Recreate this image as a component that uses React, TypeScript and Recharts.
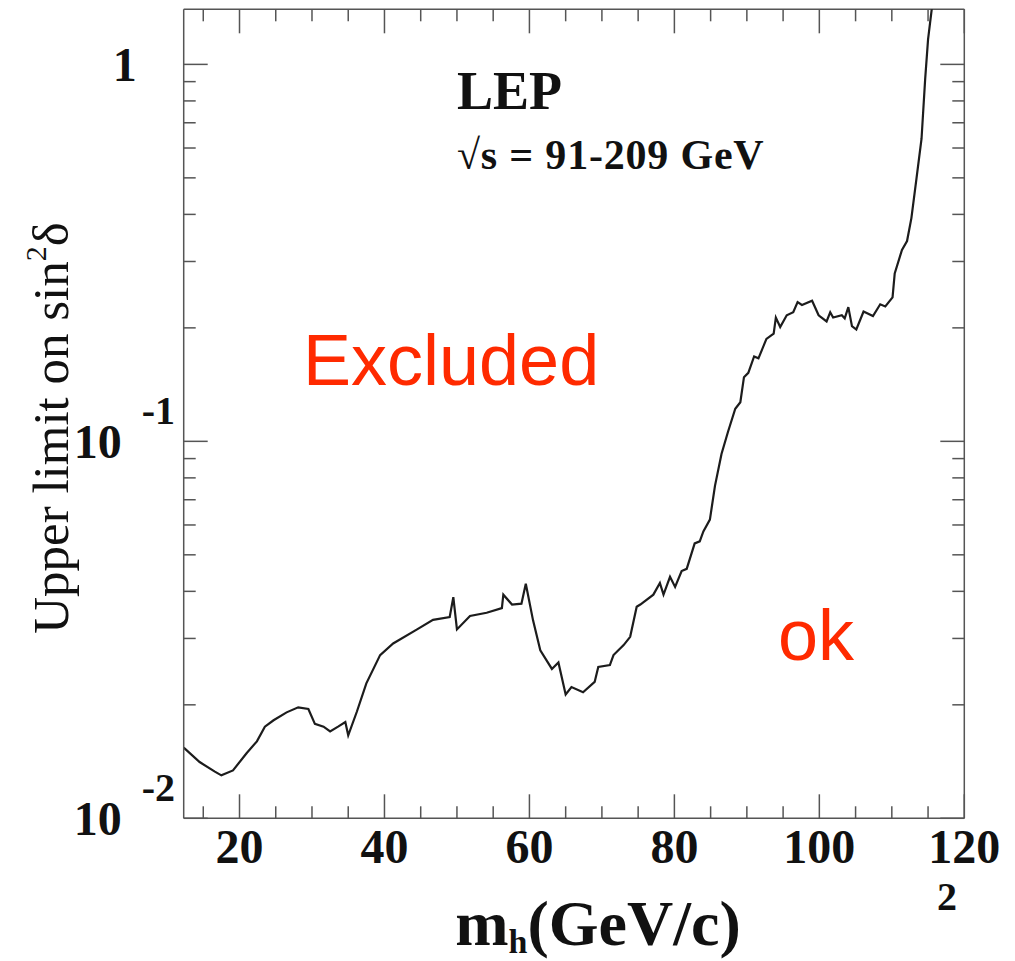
import React from "react";
import { LineChart, Line, XAxis, YAxis, ReferenceLine } from "recharts";

// Higgs mass (GeV/c^2) and upper limit on sin^2(delta)
const massGeV = [
  12.3, 14.5, 16.6, 17.5, 19.1, 21.0, 22.4, 23.5, 24.7, 26.5, 28.1, 29.5, 30.4, 31.6, 32.5, 33.6, 34.6, 35.0,
  36.2, 37.5, 39.4, 41.2, 44.5, 46.7, 49.0, 49.5, 50.0, 51.8, 54.1, 56.2, 56.4, 57.6, 58.9, 59.5, 60.5, 61.5,
  63.1, 64.0, 65.0, 65.8, 67.4, 69.0, 69.5, 71.1, 71.6, 73.0, 73.9, 74.8, 75.3, 77.1, 78.0, 78.5, 79.4, 80.1,
  81.0, 81.7, 82.8, 83.5, 84.0, 84.9, 85.6, 86.5, 87.4, 88.4, 89.1, 89.6, 90.2, 91.0, 91.6, 92.7, 93.7, 94.0,
  94.6, 95.5, 96.4, 97.0, 97.6, 99.0, 99.9, 101.0, 101.5, 101.9, 103.1, 103.5, 104.0, 104.5, 105.1, 106.1,
  107.4, 108.4, 109.1, 110.1, 110.4, 111.4, 112.1, 112.7, 113.4, 114.1, 114.6, 115.0, 115.5, 116.0,
];
const sin2Limit = [
  0.0154, 0.0141, 0.0133, 0.013, 0.0134, 0.0149, 0.016, 0.0175, 0.0182, 0.0191, 0.0197, 0.0195, 0.0178, 0.0175,
  0.017, 0.0175, 0.018, 0.0166, 0.0192, 0.0228, 0.0271, 0.0291, 0.0317, 0.0336, 0.0342, 0.0386, 0.0317, 0.0344,
  0.0351, 0.0361, 0.0392, 0.0369, 0.0371, 0.0419, 0.0335, 0.0279, 0.0249, 0.0259, 0.0213, 0.0223, 0.0216, 0.023,
  0.0252, 0.0255, 0.0271, 0.0288, 0.0303, 0.0364, 0.0369, 0.0392, 0.0421, 0.0392, 0.0437, 0.0411, 0.0453, 0.0459,
  0.0536, 0.0543, 0.0577, 0.062, 0.0762, 0.0926, 0.106, 0.122, 0.127, 0.148, 0.152, 0.168, 0.166, 0.187, 0.193,
  0.213, 0.201, 0.216, 0.22, 0.234, 0.23, 0.236, 0.216, 0.208, 0.22, 0.213, 0.216, 0.212, 0.227, 0.202, 0.198,
  0.221, 0.215, 0.231, 0.228, 0.241, 0.279, 0.322, 0.34, 0.391, 0.498, 0.635, 0.914, 1.165, 1.397, 1.75,
];

const xDomain = [12.3, 120];
const yDomain = [0.01, 1.4];
const xTicks = [15, 20, 25, 30, 35, 40, 45, 50, 55, 60, 65, 70, 75, 80, 85, 90, 95, 100, 105, 110, 115, 120];
const xMajor = [20, 40, 60, 80, 100, 120];
const yTicks = [
  0.01, 0.02, 0.03, 0.04, 0.05, 0.06, 0.07, 0.08, 0.09, 0.1, 0.2, 0.3, 0.4, 0.5, 0.6, 0.7, 0.8, 0.9, 1,
];
const yMajor = [0.01, 0.1, 1];
const yExponent: Record<string, string> = { "0.01": "-2", "0.1": "-1" };

const data = massGeV.map((m, i) => ({ m, limit: sin2Limit[i] }));

const AXIS = "#555";
const SERIF = "'Liberation Serif', 'Times New Roman', serif";
const SANS = "'Liberation Sans', Arial, sans-serif";

const W = 1000;
const H = 953;
const MARGIN = { top: 1.3, right: 43.7, bottom: 102.7, left: 0 };
const Y_AXIS_W = 175.7;
const X_AXIS_H = 40;
const PLOT_W = W - MARGIN.left - MARGIN.right - Y_AXIS_W;
const PLOT_H = H - MARGIN.top - MARGIN.bottom - X_AXIS_H;

// bottom tick + mirrored tick on the top edge
const XTick = (props: any) => {
  const { x, y, payload } = props;
  const v = payload.value;
  const major = xMajor.includes(v);
  const len = major ? 24 : 12;
  const top = y - PLOT_H;
  return (
    <g>
      <line x1={x} x2={x} y1={y} y2={y - len} stroke={AXIS} strokeWidth={1.5} />
      <line x1={x} x2={x} y1={top} y2={top + len} stroke={AXIS} strokeWidth={1.5} />
      {major && (
        <text x={x} y={y + 45} textAnchor="middle" fontFamily={SERIF} fontWeight="bold" fontSize={48} fill="#111">
          {v}
        </text>
      )}
    </g>
  );
};

// left tick + mirrored tick on the right edge
const YTick = (props: any) => {
  const { x, y, payload } = props;
  const v = payload.value;
  const major = yMajor.includes(v);
  const len = major ? 24 : 12;
  const right = x + PLOT_W;
  const exp = yExponent[String(v)];
  return (
    <g>
      <line x1={x} x2={x + len} y1={y} y2={y} stroke={AXIS} strokeWidth={1.5} />
      <line x1={right} x2={right - len} y1={y} y2={y} stroke={AXIS} strokeWidth={1.5} />
      {major && !exp && (
        <text x={x - 47} y={y + 17} textAnchor="end" fontFamily={SERIF} fontWeight="bold" fontSize={48} fill="#111">
          1
        </text>
      )}
      {exp && (
        <g fontFamily={SERIF} fontWeight="bold" fill="#111">
          <text x={x - 62} y={y + 17} textAnchor="end" fontSize={48}>
            10
          </text>
          <text x={x - 42} y={y - 17} textAnchor="start" fontSize={40}>
            {exp}
          </text>
        </g>
      )}
    </g>
  );
};

export default function App() {
  return (
    <div style={{ position: "relative", width: W, height: H }}>
      <LineChart width={W} height={H} data={data} margin={MARGIN}>
        <XAxis
          dataKey="m"
          type="number"
          domain={xDomain}
          allowDataOverflow
          ticks={xTicks}
          interval={0}
          height={X_AXIS_H}
          tickSize={0}
          tickMargin={0}
          tickLine={false}
          axisLine={{ stroke: AXIS, strokeWidth: 1.5 }}
          tick={<XTick />}
        />
        <YAxis
          type="number"
          scale="log"
          domain={yDomain}
          allowDataOverflow
          ticks={yTicks}
          interval={0}
          width={Y_AXIS_W}
          tickSize={0}
          tickMargin={0}
          tickLine={false}
          axisLine={{ stroke: AXIS, strokeWidth: 1.5 }}
          tick={<YTick />}
        />
        <ReferenceLine y={yDomain[1]} stroke={AXIS} strokeWidth={1.5} />
        <ReferenceLine x={xDomain[1]} stroke={AXIS} strokeWidth={1.5} />
        <Line
          dataKey="limit"
          type="linear"
          stroke="#1c1c1c"
          strokeWidth={2.2}
          dot={false}
          isAnimationActive={false}
        />
      </LineChart>
      <svg width={W} height={H} style={{ position: "absolute", left: 0, top: 0, pointerEvents: "none" }}>
        <text x={449} y={101} fontFamily={SERIF} fontWeight="bold" fontSize={54} fill="#111">
          LEP
        </text>
        <text x={449} y={161} fontFamily={SERIF} fontWeight="bold" fontSize={42} letterSpacing={0.8} fill="#111">
          √s = 91-209 GeV
        </text>
        <text x={295} y={377} fontFamily={SANS} fontSize={72} fill="#ff2a00">
          Excluded
        </text>
        <text x={770} y={652} fontFamily={SANS} fontSize={72} fill="#ff2a00">
          ok
        </text>
        <text
          transform="translate(60, 420) rotate(-90)"
          textAnchor="middle"
          fontFamily={SERIF}
          fontSize={51}
          fill="#111"
        >
          <tspan>Upper limit on sin</tspan>
          <tspan fontSize={30} dy={-22}>2</tspan>
          <tspan dy={22}>δ</tspan>
        </text>
        <text x={590} y={937} textAnchor="middle" fontFamily={SERIF} fontWeight="bold" fontSize={64} fill="#111">
          <tspan>m</tspan>
          <tspan fontSize={34} dy={8}>h</tspan>
          <tspan dy={-8}>(GeV/c)</tspan>
        </text>
        <text x={939} y={902} textAnchor="middle" fontFamily={SERIF} fontWeight="bold" fontSize={40} fill="#111">
          2
        </text>
      </svg>
    </div>
  );
}
